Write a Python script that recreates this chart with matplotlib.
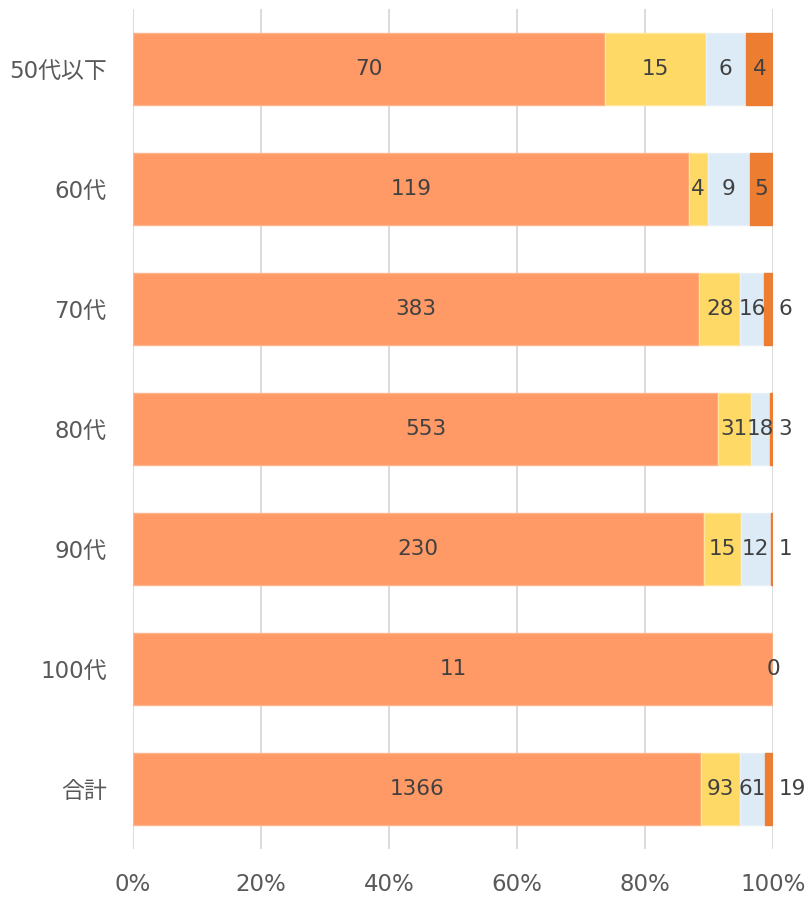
import numpy as np
import matplotlib.pyplot as plt

plt.rcParams['font.family'] = ['DejaVu Sans', 'Noto Sans CJK JP']

categories = ['50代以下', '60代', '70代', '80代', '90代', '100代', '合計']
s1 = [70, 119, 383, 553, 230, 11, 1366]
s2 = [15, 4, 28, 31, 15, 0, 93]
s3 = [6, 9, 16, 18, 12, 0, 61]
s4 = [4, 5, 6, 3, 1, 0, 19]
xticks = [0, 20, 40, 60, 80, 100]

colors = ['#FF9966', '#FFD966', '#DDEBF7', '#ED7D31']
edges = ['#FFB38A', '#FFE699', '#E8F1FA', '#ED7D31']

data = np.array([s1, s2, s3, s4], dtype=float)
totals = data.sum(axis=0)
pct = data / totals * 100

fig = plt.figure(figsize=(8.11, 8.97), dpi=100)
ax = fig.add_axes([133 / 811, 48 / 897, 640 / 811, 840 / 897])

y = np.arange(len(categories))
left = np.zeros(len(categories))
for i in range(4):
    ax.barh(y, pct[i], left=left, height=0.6, color=colors[i],
            edgecolor=edges[i], linewidth=1, zorder=3)
    for j in range(len(categories)):
        v = data[i, j]
        c = left[j] + pct[i, j] / 2
        if v == 0 and i < 3:
            continue
        # thin last segments get their label just past the bar end
        if i == 3 and 0 < pct[i, j] < 3:
            ax.annotate(f'{int(v)}', (100, y[j]), xytext=(4, 0),
                        textcoords='offset points', ha='left', va='center',
                        fontsize=15.5, color='#404040', zorder=4)
        else:
            ax.text(c, y[j], f'{int(v)}', ha='center', va='center',
                    fontsize=15.5, color='#404040', zorder=4)
    left += pct[i]

ax.set_xlim(0, 100)
ax.set_ylim(6.5, -0.5)
ax.set_xticks(xticks)
ax.set_xticklabels([f'{t}%' for t in xticks])
ax.set_yticks(y)
ax.set_yticklabels(categories)
ax.tick_params(axis='both', length=0, labelsize=16.5, labelcolor='#595959')
ax.tick_params(axis='x', pad=17)
ax.tick_params(axis='y', pad=19)
ax.grid(axis='x', color='#D9D9D9', linewidth=1.3, zorder=0)
for s in ax.spines.values():
    s.set_visible(False)

fig.savefig('out.png', dpi=100)
